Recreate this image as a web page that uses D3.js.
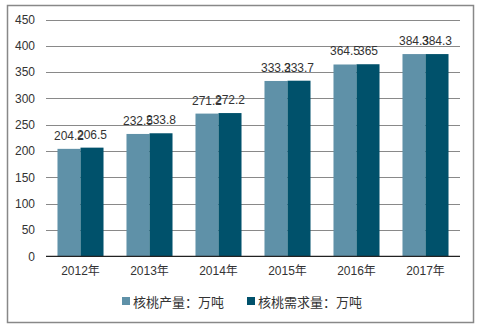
<!DOCTYPE html>
<html><head><meta charset="utf-8">
<script src="https://cdn.jsdelivr.net/npm/d3@7"></script>
<style>body{margin:0;background:#fff}svg{display:block}</style>
</head><body>
<script>
const categories = ["2012年","2013年","2014年","2015年","2016年","2017年"];
const production = [204.2, 232.5, 271.2, 333.2, 364.5, 384.3];
const demand = [206.5, 233.8, 272.2, 333.7, 365, 384.3];
const seriesNames = ["核桃产量：万吨","核桃需求量：万吨"];
const yTicks = [0,50,100,150,200,250,300,350,400,450];
const colors = ["#5F91A8","#00516B"];

(function(){
const W=482,H=330;
const svg=d3.select("body").append("svg").attr("width",W).attr("height",H);
svg.append("rect").attr("x",7.5).attr("y",5.5).attr("width",466).attr("height",317)
  .attr("fill","#fff").attr("stroke","#888").attr("stroke-width",1.5);

const mLeft=46,mRight=460,mTop=19.5,mBottom=256.3;
const y=d3.scaleLinear().domain([0,450]).range([mBottom,mTop]);
const x=d3.scaleBand().domain(categories).range([mLeft,mRight]).paddingInner(0.333).paddingOuter(0.1665);
const xs=d3.scaleBand().domain([0,1]).range([0,x.bandwidth()]);

const font="Liberation Sans, Arial, sans-serif";
svg.append("g").selectAll("line").data(yTicks.filter(d=>d>0)).join("line")
  .attr("x1",mLeft).attr("x2",mRight).attr("y1",d=>Math.round(y(d))+0.5).attr("y2",d=>Math.round(y(d))+0.5)
  .attr("stroke","#898989").attr("stroke-width",1);

const yAxis=d3.axisLeft(y).tickValues(yTicks).tickSize(0).tickPadding(11);
const gy=svg.append("g").attr("transform",`translate(${mLeft},0)`).call(yAxis);
gy.select(".domain").remove();
gy.selectAll("text").attr("font-family",font).attr("font-size",12).attr("fill","#333");

const series=[production,demand];
series.forEach((vals,si)=>{
  svg.append("g").selectAll("rect").data(vals).join("rect")
    .attr("x",(d,i)=>x(categories[i])+xs(si)).attr("width",xs.bandwidth())
    .attr("y",d=>y(d)).attr("height",d=>mBottom-y(d)).attr("fill",colors[si]);
  svg.append("g").selectAll("text").data(vals).join("text")
    .attr("x",(d,i)=>x(categories[i])+xs(si)+xs.bandwidth()/2)
    .attr("y",d=>y(d)-9).attr("text-anchor","middle")
    .attr("font-family",font).attr("font-size",12).attr("fill","#333").text(d=>d);
});

const xAxis=d3.axisBottom(x).tickSize(0).tickPadding(10);
const gx=svg.append("g").attr("transform",`translate(0,${mBottom})`).call(xAxis);
gx.select(".domain").attr("stroke","#222").attr("stroke-width",1.2).attr("d",`M${mLeft},0H${mRight}`);
gx.selectAll("text").attr("font-family","Liberation Sans, Noto Sans CJK SC, sans-serif").attr("font-size",12).attr("fill","#333");

const legX=[122,247];
const lg=svg.append("g");
seriesNames.forEach((n,i)=>{
  lg.append("rect").attr("x",legX[i]).attr("y",297).attr("width",8).attr("height",8).attr("fill",colors[i]);
  lg.append("text").attr("x",legX[i]+11).attr("y",306.5).attr("font-family","Noto Sans CJK SC, sans-serif")
    .attr("font-size",13).attr("fill","#333").text(n);
});
})();
</script>
</body></html>
